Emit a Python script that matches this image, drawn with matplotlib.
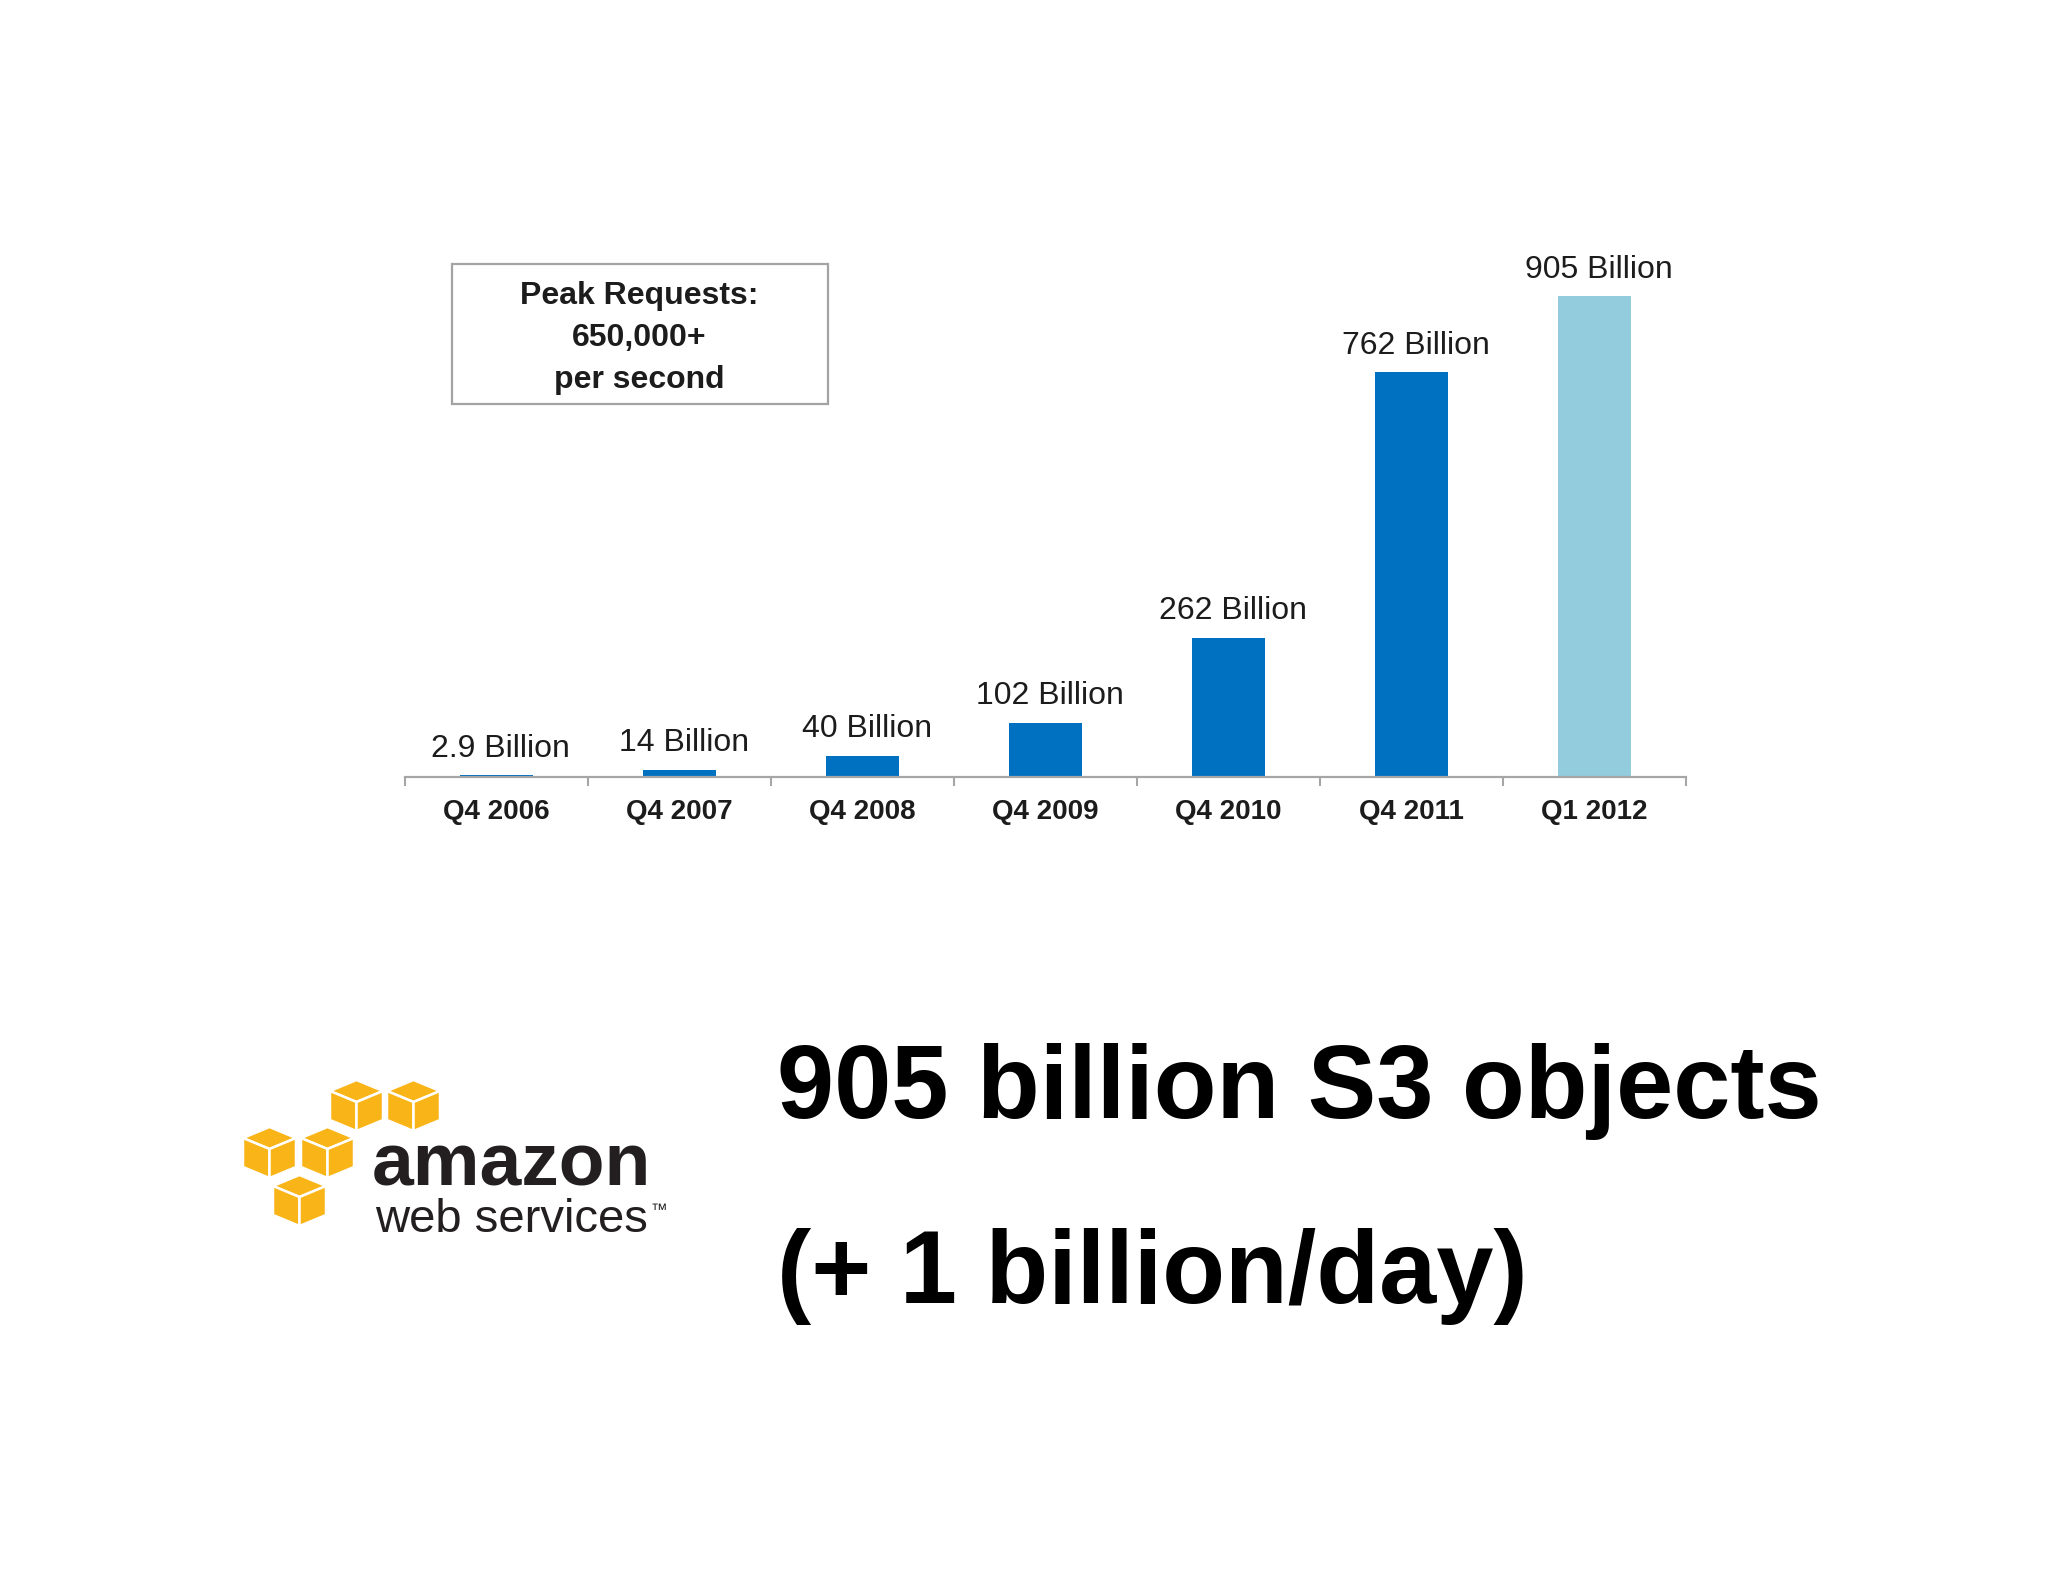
import numpy as np
import matplotlib
matplotlib.use("Agg")
import matplotlib.pyplot as plt
from matplotlib.patches import Polygon, Rectangle
import warnings
warnings.filterwarnings("ignore")

# data
quarters = ["Q4 2006", "Q4 2007", "Q4 2008", "Q4 2009", "Q4 2010", "Q4 2011", "Q1 2012"]
objects_billion = [2.9, 14, 40, 102, 262, 762, 905]
peak_lines = ["Peak Requests:", "650,000+", "per second"]
headline = ["905 billion S3 objects", "(+ 1 billion/day)"]

DARK_BLUE = "#0070C0"
LIGHT_BLUE = "#93CDDD"
CUBE = "#F9B417"
TEXT = "#1c1c1c"

W, H = 2048, 1582
plt.rcParams['font.family'] = ['Liberation Sans', 'DejaVu Sans']
fig = plt.figure(figsize=(W / 100, H / 100), dpi=100)
fig.patch.set_facecolor("white")


def fx(px):
    return px / W


def fy(py):
    return 1 - py / H


# --- bar chart ---
ax_left, ax_right, base_y, top_y = 405, 1686, 777, 250
ax = fig.add_axes([fx(ax_left), fy(base_y), fx(ax_right - ax_left), (base_y - top_y) / H])
x = np.arange(len(quarters))
colors = [DARK_BLUE] * (len(quarters) - 1) + [LIGHT_BLUE]
ax.bar(x, objects_billion, width=0.4, color=colors, zorder=2)
ax.set_xlim(-0.5, len(quarters) - 0.5)
ax.set_ylim(0, max(objects_billion) * 1.096)

for i, v in enumerate(objects_billion):
    ax.annotate(f"{v:g} Billion", xy=(x[i], v), xytext=(3, 19), textcoords="offset points",
                ha="center", va="center", fontsize=23, color=TEXT)

for s in ["top", "left", "right"]:
    ax.spines[s].set_visible(False)
ax.spines["bottom"].set_color("#a6a6a6")
ax.spines["bottom"].set_linewidth(1.6)
ax.set_yticks([])
ax.set_xticks(x)
ax.set_xticklabels(quarters, fontsize=20, fontweight="bold", color=TEXT)
ax.tick_params(axis="x", which="major", length=0, pad=16)
ax.set_xticks(np.arange(-0.5, len(quarters)), minor=True)
ax.tick_params(axis="x", which="minor", length=6.5, width=1.5, color="#a6a6a6", direction="out")
ax.patch.set_alpha(0)

# --- overlay in pixel coordinates for box, logo, headline ---
ov = fig.add_axes([0, 0, 1, 1])
ov.set_xlim(0, W)
ov.set_ylim(H, 0)
ov.axis("off")
ov.patch.set_alpha(0)

ov.add_patch(Rectangle((452, 264), 376, 140, facecolor="white", edgecolor="#a3a3a3", lw=1.6, zorder=3))
for k, line in enumerate(peak_lines):
    ov.text(639, 296 + 42 * k, line, ha="center", va="center", fontsize=23, fontweight="bold",
            color=TEXT, zorder=4)

# headline
ov.text(777, 1118, headline[0], fontsize=74, fontweight="bold", color="black", va="baseline", ha="left")
ov.text(777, 1303, headline[1], fontsize=74, fontweight="bold", color="black", va="baseline", ha="left")


# logo cubes
def cube(x0, y0, w=53, h=51, t=11):
    cx = x0 + w / 2
    faces = [
        [(x0, y0 + t), (cx, y0), (x0 + w, y0 + t), (cx, y0 + 2 * t)],
        [(x0, y0 + t), (cx, y0 + 2 * t), (cx, y0 + h), (x0, y0 + h - t)],
        [(cx, y0 + 2 * t), (x0 + w, y0 + t), (x0 + w, y0 + h - t), (cx, y0 + h)],
    ]
    for f in faces:
        ov.add_patch(Polygon(f, closed=True, facecolor=CUBE, edgecolor="white", lw=1.8,
                             joinstyle="miter", zorder=5))


for cx0, cy0 in [(330, 1080), (387, 1080), (243, 1127), (301, 1127), (273, 1175)]:
    cube(cx0, cy0)

ov.text(372, 1186, "amazon", fontsize=54, fontweight="bold", color="#231f20", va="baseline", ha="left")
ov.text(375, 1232, "web services", fontsize=34, color="#231f20", va="baseline", ha="left")
ov.text(651, 1203, "\u2122", fontsize=12, color="#231f20", va="top", ha="left")

fig.savefig("out.png", dpi=100, facecolor="white")
